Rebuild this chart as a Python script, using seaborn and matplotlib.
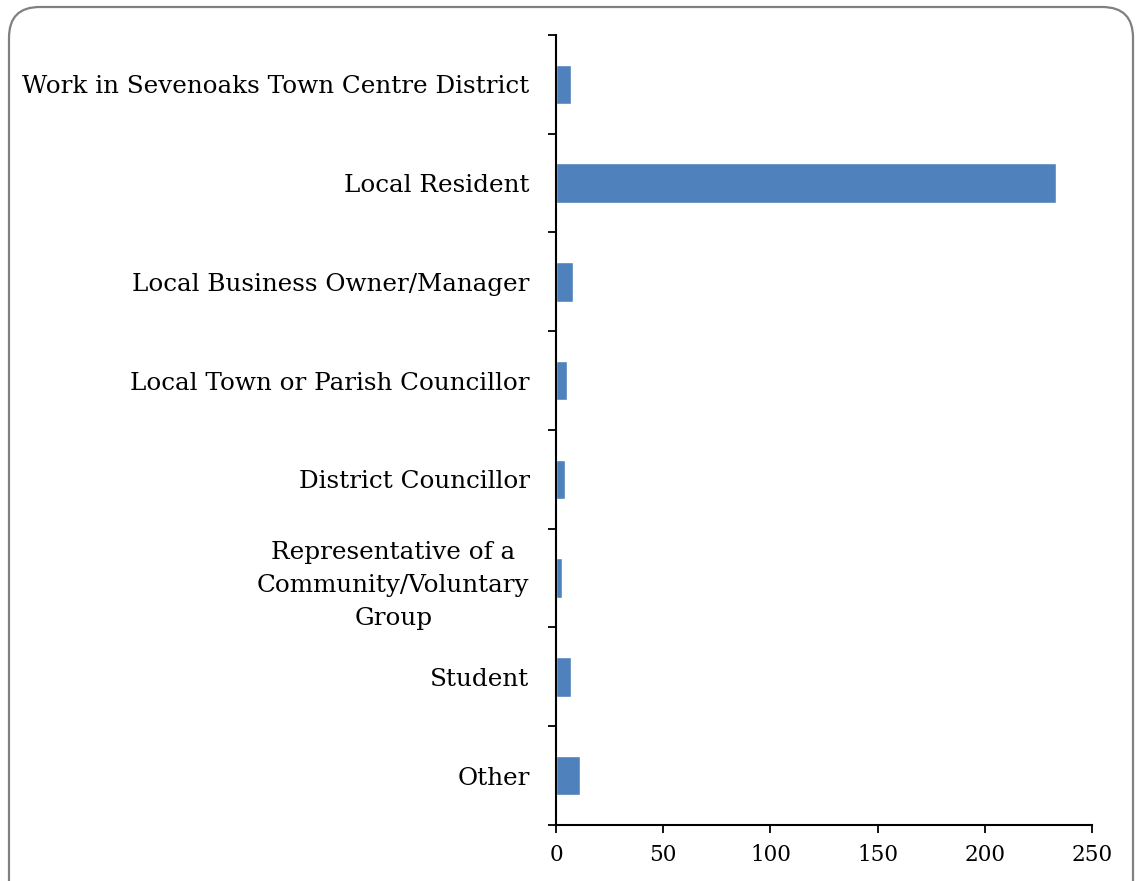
import matplotlib
matplotlib.use("Agg")
import matplotlib.pyplot as plt
import seaborn as sns
import pandas as pd
from matplotlib.patches import FancyBboxPatch

categories = [
    "Work in Sevenoaks Town Centre District",
    "Local Resident",
    "Local Business Owner/Manager",
    "Local Town or Parish Councillor",
    "District Councillor",
    "Representative of a\nCommunity/Voluntary\nGroup",
    "Student",
    "Other",
]
values = [7, 233, 8, 5, 4, 3, 7, 11]
x_ticks = [0, 50, 100, 150, 200, 250]

sns.set_theme(style="white")
plt.rcParams["font.family"] = ["DejaVu Serif"]

df = pd.DataFrame({"category": categories, "value": values})

fig = plt.figure(figsize=(11.36, 8.81), dpi=100)
ax = fig.add_axes([0.4894, 0.0636, 0.9613 - 0.4894, 0.9603 - 0.0636])

sns.barplot(data=df, y="category", x="value", orient="h", color="#4F81BD",
            saturation=1, width=0.4, ax=ax)

ax.set_xlim(0, 250)
ax.set_ylim(len(categories) - 0.5, -0.5)
ax.set_xticks(x_ticks)
ax.set_xlabel("")
ax.set_ylabel("")

# category labels at centers, ticks at boundaries
ax.set_yticks(range(len(categories)))
ax.set_yticklabels(categories, fontsize=17.7, multialignment="center", color="black",
                   linespacing=1.55)
ax.tick_params(axis="y", which="major", length=0, pad=19)
ax.set_yticks([i - 0.5 for i in range(len(categories) + 1)], minor=True)
ax.tick_params(axis="y", which="minor", left=True, length=6, width=1.3, color="black", direction="out")
ax.tick_params(axis="x", which="major", bottom=True, length=6, width=1.3, color="black",
               direction="out", labelsize=15.5, labelcolor="black", pad=8)

for s in ["top", "right"]:
    ax.spines[s].set_visible(False)
for s in ["left", "bottom"]:
    ax.spines[s].set_visible(True)
    ax.spines[s].set_color("black")
    ax.spines[s].set_linewidth(1.5)
ax.grid(False)

border = FancyBboxPatch((9 / 1136, -0.04), 1124 / 1136, 1.04 - 7 / 881,
                        boxstyle="round,pad=0,rounding_size=0.027",
                        transform=fig.transFigure, fill=False, edgecolor="#808080",
                        linewidth=1.6, mutation_aspect=1136 / 881, clip_on=False)
fig.patches.append(border)

fig.savefig("out.png", dpi=100)
